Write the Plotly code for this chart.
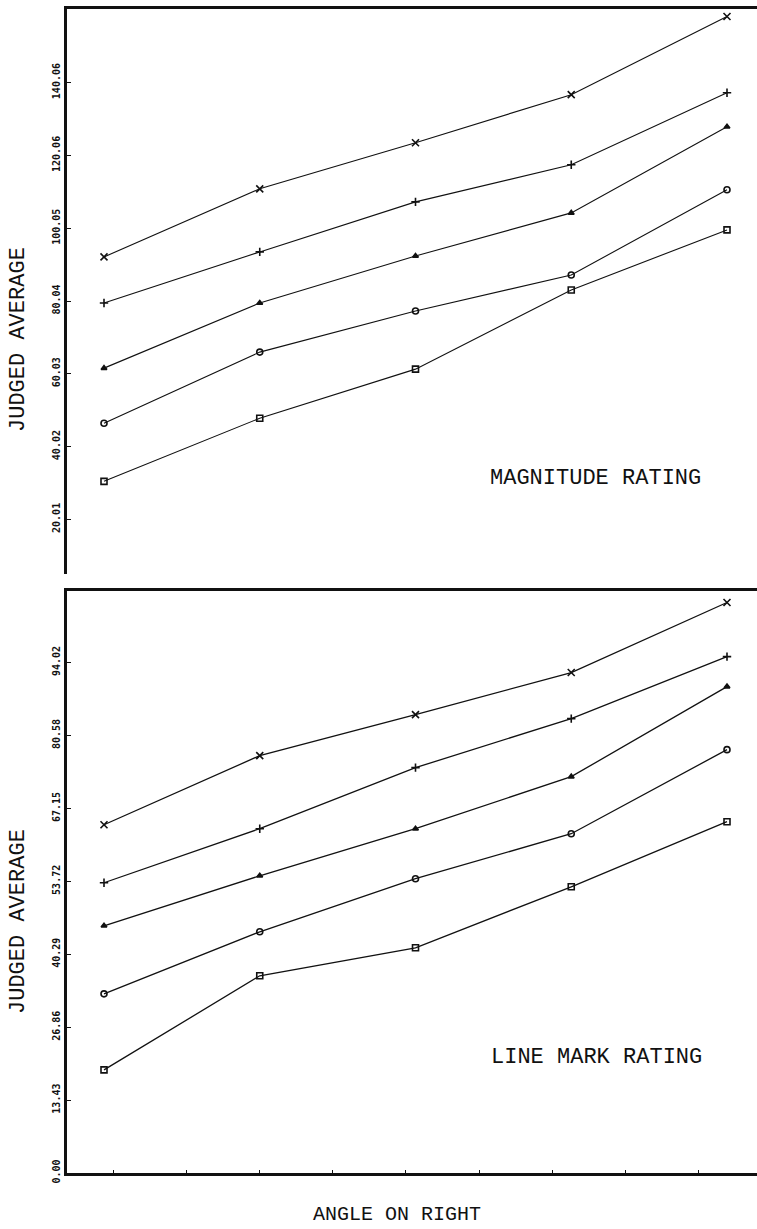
import plotly.graph_objects as go

# x positions (five angle conditions, unlabeled)
angles = [1, 2, 3, 4, 5]

# Top panel: magnitude rating
mag_x = [92.15, 110.87, 123.54, 136.75, 158.23]
mag_plus = [79.48, 93.53, 107.29, 117.48, 137.30]
mag_tri = [61.59, 79.48, 92.42, 104.26, 127.94]
mag_circ = [46.44, 65.99, 77.28, 87.19, 110.60]
mag_sq = [30.47, 47.82, 61.31, 83.06, 99.58]

# Bottom panel: line mark rating
lm_x = [64.15, 76.87, 84.43, 92.18, 105.08]
lm_plus = [53.46, 63.42, 74.66, 83.69, 95.12]
lm_tri = [45.53, 54.75, 63.42, 73.00, 89.59]
lm_circ = [33.00, 44.43, 54.20, 62.49, 77.98]
lm_sq = [18.99, 36.32, 41.48, 52.72, 64.71]

top_tickvals = [20.01, 40.02, 60.03, 80.04, 100.05, 120.06, 140.07]
top_ticktext = ["20.01", "40.02", "60.03", "80.04", "100.05", "120.06", "140.06"]
bot_tickvals = [0.0, 13.43, 26.86, 40.29, 53.72, 67.15, 80.58, 94.02]
bot_ticktext = ["0.00", "13.43", "26.86", "40.29", "53.72", "67.15", "80.58", "94.02"]

symbols = ["x-thin-open", "cross-thin-open", "triangle-up", "circle-open", "square-open"]
sizes = [7, 6, 5, 6, 6]

fig = go.Figure()
top_series = [mag_x, mag_plus, mag_tri, mag_circ, mag_sq]
bot_series = [lm_x, lm_plus, lm_tri, lm_circ, lm_sq]
for s, sym, sz in zip(top_series, symbols, sizes):
    fig.add_trace(go.Scatter(x=angles, y=s, mode="lines+markers", xaxis="x", yaxis="y",
                             line=dict(color="#111", width=1.1),
                             marker=dict(symbol=sym, size=sz, color="#111", line=dict(color="#111", width=1.6)),
                             showlegend=False))
for s, sym, sz in zip(bot_series, symbols, sizes):
    fig.add_trace(go.Scatter(x=angles, y=s, mode="lines+markers", xaxis="x2", yaxis="y2",
                             line=dict(color="#111", width=1.3),
                             marker=dict(symbol=sym, size=sz, color="#111", line=dict(color="#111", width=1.6)),
                             showlegend=False))

W, H = 757, 1229
xdom = [67 / W, 1.0]
ydom_top = [1 - 574 / H, 1 - 9 / H]
ydom_bot = [1 - 1173 / H, 1 - 591 / H]
xrange = [1 - 37 / 155.75, 5 + 30 / 155.75]

tickfont = dict(family="DejaVu Sans Mono", size=10, color="#111", weight="bold")

fig.update_layout(
    width=W, height=H, template="none",
    margin=dict(l=0, r=0, t=0, b=0),
    paper_bgcolor="white", plot_bgcolor="white",
    xaxis=dict(domain=xdom, range=xrange, anchor="y", side="top", showline=True, linecolor="#111",
               linewidth=2.5, showgrid=False, zeroline=False, showticklabels=False, ticks="",
               automargin=False),
    yaxis=dict(domain=ydom_top, range=[5.0, 160.3], anchor="x", showline=True, linecolor="#111",
               linewidth=2.5, showgrid=False, zeroline=False, tickvals=top_tickvals,
               ticktext=top_ticktext, tickangle=-90, ticks="inside", ticklen=4, tickcolor="#111",
               tickfont=tickfont, automargin=False),
    xaxis2=dict(domain=xdom, range=xrange, anchor="y2", showline=True, mirror=True, linecolor="#111",
                linewidth=2.5, showgrid=False, zeroline=False, showticklabels=False,
                ticks="inside", ticklen=3, tickcolor="#111", tick0=1.058, dtick=0.47,
                automargin=False),
    yaxis2=dict(domain=ydom_bot, range=[0.0, 107.2], anchor="x2", showline=True, linecolor="#111",
                linewidth=2.5, showgrid=False, zeroline=False, tickvals=bot_tickvals,
                ticktext=bot_ticktext, tickangle=-90, ticks="inside", ticklen=4, tickcolor="#111",
                tickfont=tickfont, automargin=False),
)

labfont = dict(family="Liberation Mono", size=22, color="#111")
fig.add_annotation(text="JUDGED AVERAGE", xref="paper", yref="paper", x=18 / W, y=1 - 340 / H,
                   textangle=-90, showarrow=False, font=labfont, xanchor="center", yanchor="middle")
fig.add_annotation(text="JUDGED AVERAGE", xref="paper", yref="paper", x=18 / W, y=1 - 922 / H,
                   textangle=-90, showarrow=False, font=labfont, xanchor="center", yanchor="middle")
fig.add_annotation(text="MAGNITUDE RATING", xref="paper", yref="paper", x=595 / W, y=1 - 478 / H,
                   showarrow=False, font=labfont, xanchor="center", yanchor="middle")
fig.add_annotation(text="LINE MARK RATING", xref="paper", yref="paper", x=596 / W, y=1 - 1057 / H,
                   showarrow=False, font=labfont, xanchor="center", yanchor="middle")
fig.add_annotation(text="ANGLE ON RIGHT", xref="paper", yref="paper", x=397 / W, y=1 - 1214 / H,
                   showarrow=False, font=dict(family="Liberation Mono", size=20, color="#111"),
                   xanchor="center", yanchor="middle")

fig.write_html("out.html")
